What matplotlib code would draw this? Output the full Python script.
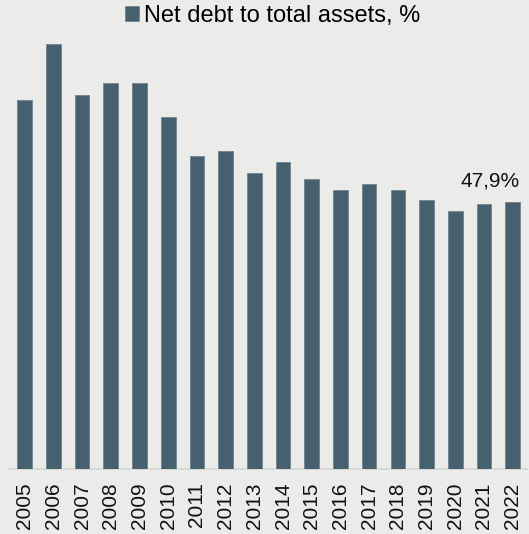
import matplotlib
matplotlib.use("Agg")
import matplotlib.pyplot as plt

years = ["2005", "2006", "2007", "2008", "2009", "2010", "2011", "2012", "2013",
         "2014", "2015", "2016", "2017", "2018", "2019", "2020", "2021", "2022"]
values = [66.1, 76.2, 67.0, 69.1, 69.1, 63.1, 56.1, 57.0, 53.0,
          55.0, 52.0, 50.0, 51.0, 49.9, 48.2, 46.2, 47.5, 47.9]
series_name = "Net debt to total assets, %"
last_label = "47,9%"

plt.rcParams['font.family'] = ['Liberation Sans', 'DejaVu Sans']

bg = "#EBECE9"
bar_color = "#46606F"

W, H = 529, 534
fig = plt.figure(figsize=(W / 100, H / 100), dpi=100, facecolor=bg)
ax = fig.add_axes([10.35 / W, 65.5 / H, (527 - 10.35) / W, (494 - 65.5) / H])
ax.set_facecolor(bg)

x = list(range(len(years)))
bars = ax.bar(x, values, width=0.51, color=bar_color, edgecolor="#6F8390",
              linewidth=0.6, label=series_name, zorder=3)
ax.set_xlim(-0.5, len(years) - 0.5)
ax.set_ylim(0, 428.5 / 5.574)

for s in ["top", "right", "left"]:
    ax.spines[s].set_visible(False)
ax.spines["bottom"].set_color("#D6D7D4")
ax.spines["bottom"].set_linewidth(1.3)
ax.set_yticks([])
ax.set_xticks(x)
ax.set_xticklabels(years, rotation=90, fontsize=15, color="#111111")
ax.tick_params(axis="x", length=0, pad=10)

ax.annotate(last_label, xy=(x[-1] + 0.255, values[-1]), xytext=(0, 10.8),
            textcoords="offset points", ha="right", va="baseline",
            fontsize=15, color="#111111", annotation_clip=False)

fig.legend(handles=[bars], labels=[series_name], loc="center",
           bbox_to_anchor=(272.8 / W, 1 - 15.7 / H), frameon=False,
           fontsize=17, handlelength=0.6, handleheight=0.6,
           handletextpad=0.2, borderpad=0)

fig.savefig("out.png", dpi=100, facecolor=bg)
